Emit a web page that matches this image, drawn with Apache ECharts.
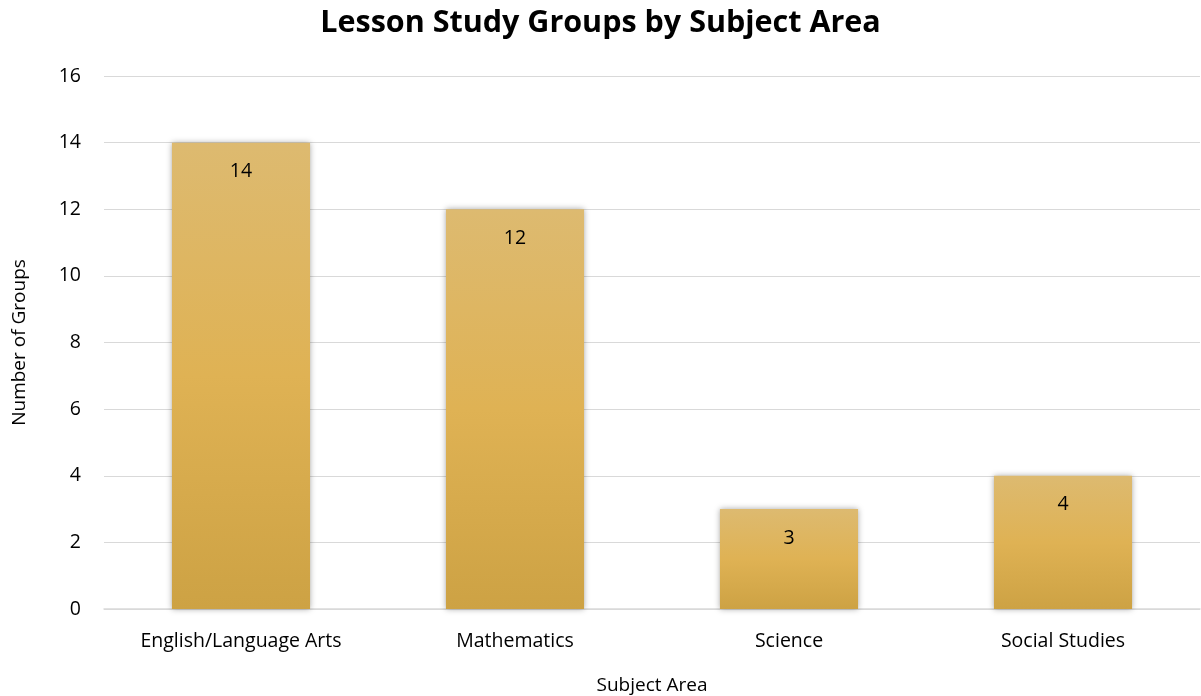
<!DOCTYPE html>
<html>
<head>
<meta charset="utf-8">
<script src="https://cdn.jsdelivr.net/npm/echarts@6/dist/echarts.min.js"></script>
<style>
html,body{margin:0;padding:0;background:#fff;}
#chart{width:1201px;height:696px;}
</style>
</head>
<body>
<div id="chart"></div>
<script>
const categories = ['English/Language Arts', 'Mathematics', 'Science', 'Social Studies'];
const groupCounts = [14, 12, 3, 4];
const yTicks = { min: 0, max: 16, interval: 2 };

const FONT = '"Open Sans", "Noto Sans", sans-serif';
const chart = echarts.init(document.getElementById('chart'));

const barFill = new echarts.graphic.LinearGradient(0, 0, 0, 1, [
  { offset: 0, color: '#DDBA70' },
  { offset: 0.5, color: '#DFB254' },
  { offset: 1, color: '#CDA244' }
]);

chart.setOption({
  animation: false,
  title: {
    text: 'Lesson Study Groups by Subject Area',
    left: 'center',
    top: 3,
    textStyle: { fontFamily: FONT, fontSize: 30.5, fontWeight: 'bold', color: '#000' }
  },
  grid: { left: 104, right: 1, top: 76, bottom: 87, containLabel: false, outerBoundsMode: 'none' },
  xAxis: {
    type: 'category',
    data: categories,
    name: 'Subject Area',
    nameLocation: 'middle',
    nameGap: 67,
    nameTextStyle: { fontFamily: FONT, fontSize: 19, color: '#000' },
    axisLine: { lineStyle: { color: '#d9d9d9', width: 1.5 } },
    axisTick: { show: false },
    axisLabel: { fontFamily: FONT, fontSize: 19.5, color: '#000', margin: 22 }
  },
  yAxis: {
    type: 'value',
    min: yTicks.min,
    max: yTicks.max,
    interval: yTicks.interval,
    name: 'Number of Groups',
    nameLocation: 'middle',
    nameGap: 75,
    nameTextStyle: { fontFamily: FONT, fontSize: 19, color: '#000' },
    axisLine: { show: false },
    axisTick: { show: false },
    axisLabel: { fontFamily: FONT, fontSize: 19.5, color: '#000', margin: 23 },
    splitLine: { lineStyle: { color: '#d9d9d9', width: 1.2 } }
  },
  series: [{
    type: 'bar',
    data: groupCounts,
    barWidth: '50.4%',
    itemStyle: {
      color: barFill,
      shadowColor: 'rgba(0,0,0,0.35)',
      shadowBlur: 6,
      shadowOffsetX: 0,
      shadowOffsetY: 0
    },
    label: {
      show: true,
      position: 'insideTop',
      distance: 19,
      fontFamily: FONT,
      fontSize: 19.5,
      color: '#000'
    }
  }]
});
</script>
</body>
</html>
